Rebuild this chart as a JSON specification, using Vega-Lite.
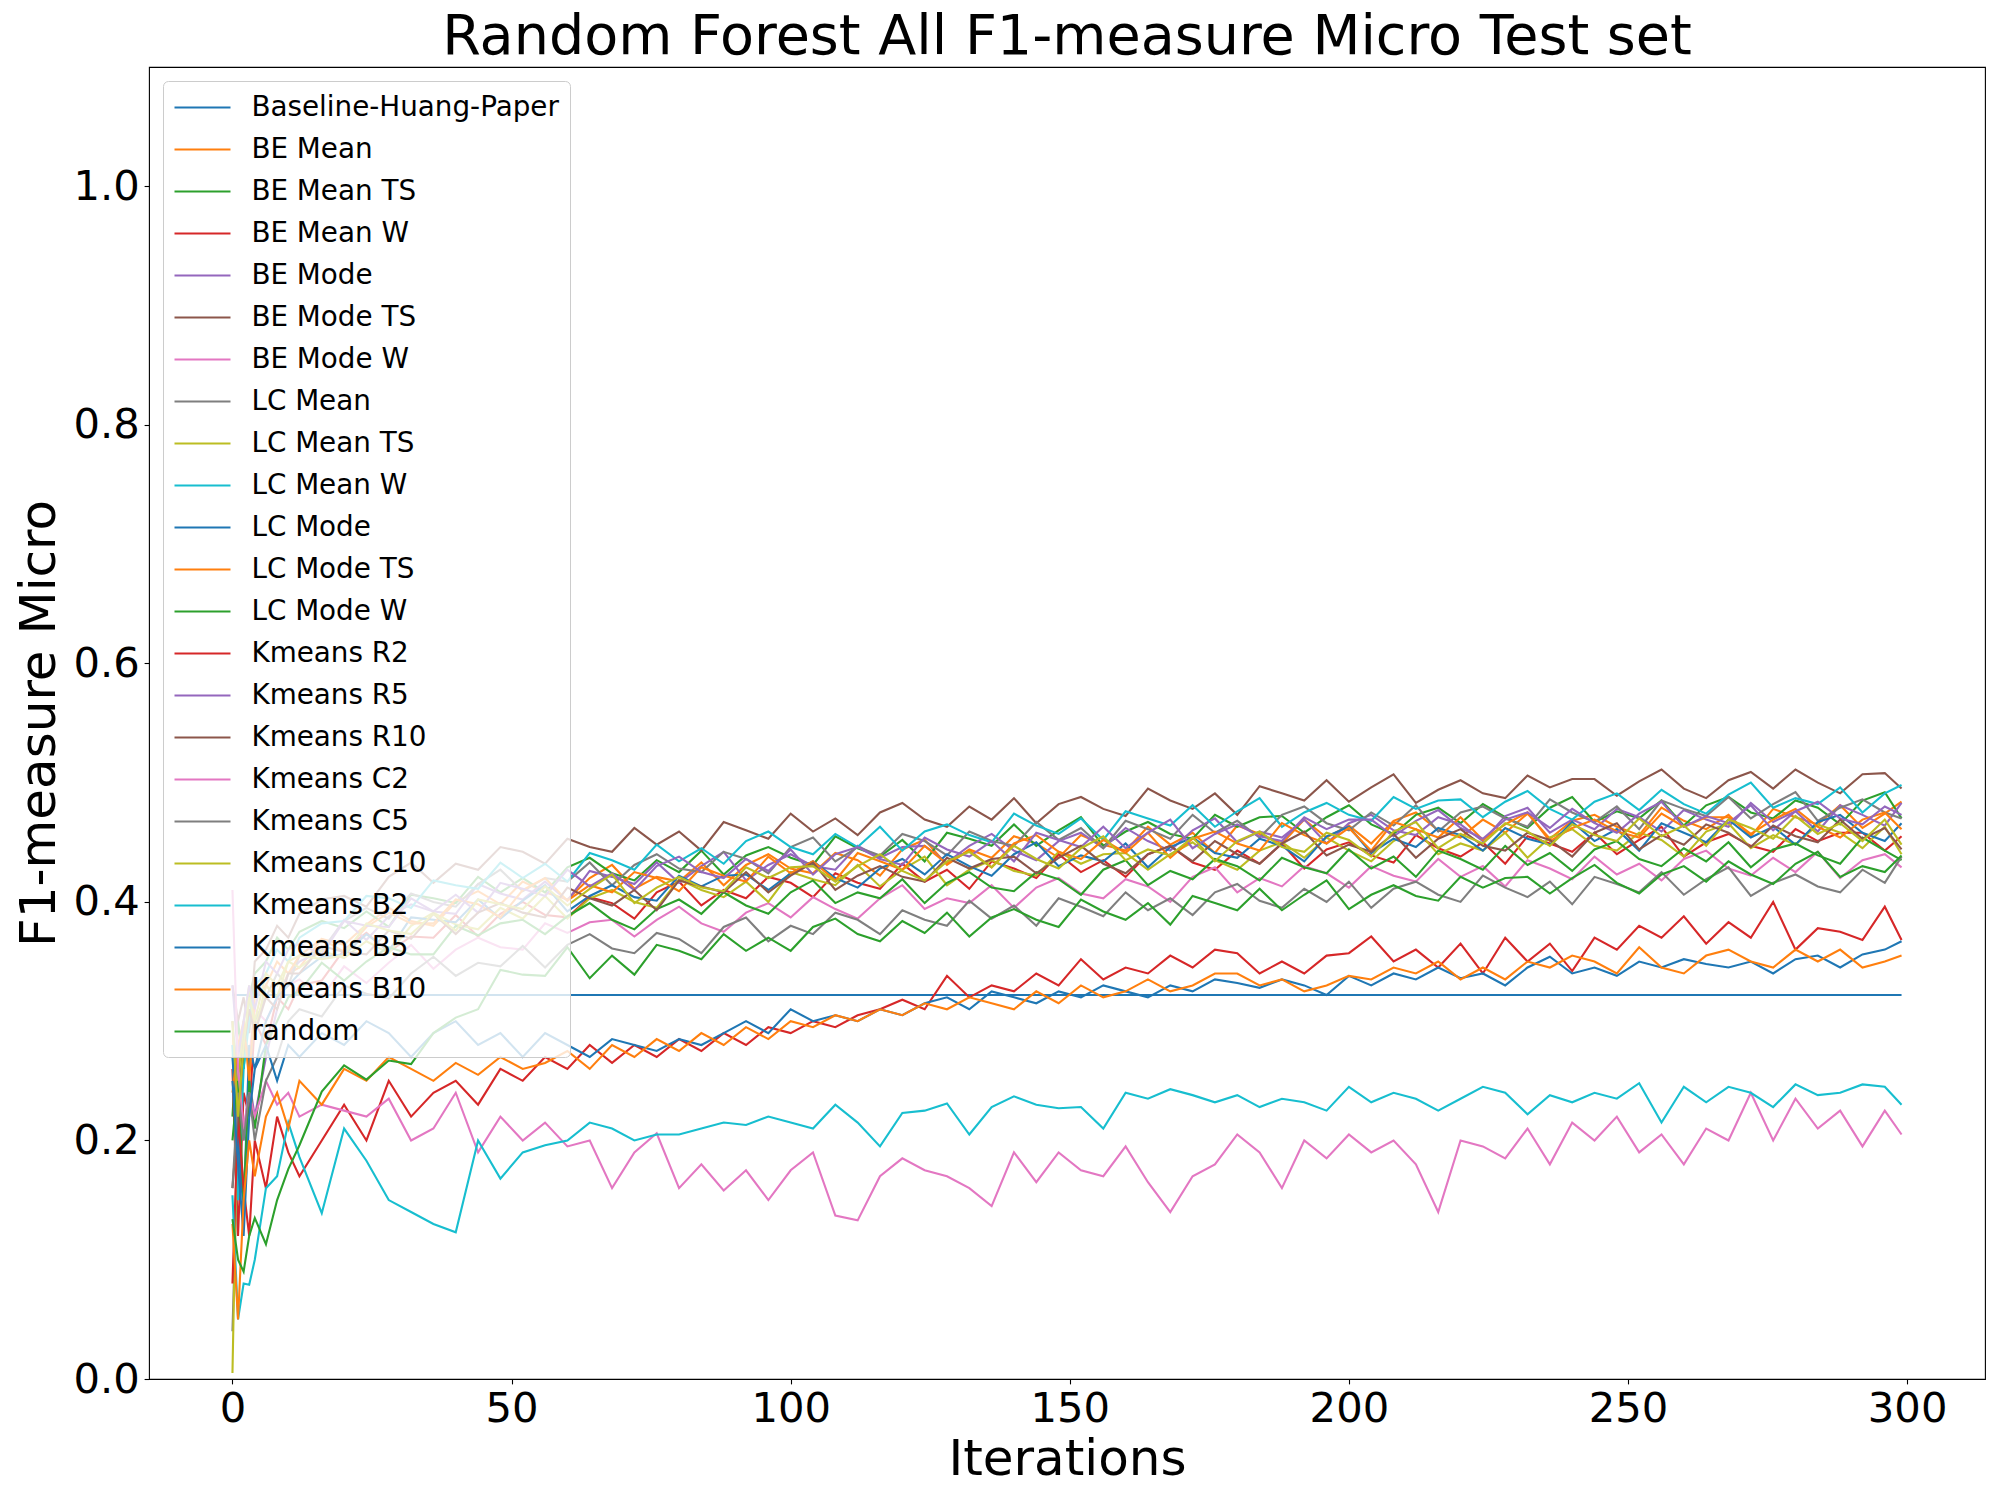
{
  "$schema": "https://vega.github.io/schema/vega-lite/v6.json",
  "description": "Random Forest F1 micro per iteration, one line per selection strategy",
  "width": 1836,
  "height": 1312,
  "autosize": {"type": "none"},
  "padding": {"left": 149, "top": 67, "right": 15, "bottom": 121},
  "background": "white",
  "title": {
    "text": "Random Forest All F1-measure Micro Test set",
    "font": "DejaVu Sans",
    "fontSize": 55.6,
    "fontWeight": "normal",
    "color": "black",
    "anchor": "middle",
    "baseline": "alphabetic",
    "offset": -43
  },
  "data": {
    "values": [
      {"x":0,"a":0.322,"b":0.30,"c":0.22,"d":0.26,"e":0.30,"f":0.33,"g":0.28,"h":0.04,"i":0.005,"j":0.28,"k":0.27,"l":0.24,"m":0.20,"n":0.08,"o":0.33,"p":0.16,"q":0.41,"r":0.16,"s":0.30,"t":0.154,"u":0.25,"v":0.13,"w":0.134},
      {"x":1,"a":0.322,"b":0.18,"c":0.30,"d":0.12,"e":0.24,"f":0.30,"g":0.22,"h":0.20,"i":0.25,"j":0.15,"k":0.20,"l":0.28,"m":0.25,"n":0.22,"o":0.27,"p":0.22,"q":0.26,"r":0.24,"s":0.22,"t":0.05,"u":0.18,"v":0.05,"w":0.10},
      {"x":2,"a":0.322,"b":0.27,"c":0.26,"d":0.24,"e":0.20,"f":0.32,"g":0.29,"h":0.30,"i":0.30,"j":0.26,"k":0.14,"l":0.30,"m":0.15,"n":0.16,"o":0.30,"p":0.28,"q":0.21,"r":0.20,"s":0.28,"t":0.08,"u":0.12,"v":0.15,"w":0.09},
      {"x":3,"a":0.322,"b":0.31,"c":0.32,"d":0.22,"e":0.25,"f":0.29,"g":0.27,"h":0.26,"i":0.33,"j":0.30,"k":0.28,"l":0.25,"m":0.25,"n":0.12,"o":0.33,"p":0.31,"q":0.24,"r":0.24,"s":0.32,"t":0.079,"u":0.22,"v":0.20,"w":0.12},
      {"x":4,"a":0.322,"b":0.29,"c":0.34,"d":0.30,"e":0.22,"f":0.35,"g":0.31,"h":0.30,"i":0.29,"j":0.33,"k":0.26,"l":0.32,"m":0.21,"n":0.20,"o":0.31,"p":0.29,"q":0.22,"r":0.20,"s":0.30,"t":0.10,"u":0.26,"v":0.17,"w":0.135},
      {"x":6,"a":0.322,"b":0.33,"c":0.35,"d":0.28,"e":0.27,"f":0.36,"g":0.30,"h":0.32,"i":0.33,"j":0.34,"k":0.30,"l":0.33,"m":0.28,"n":0.16,"o":0.35,"p":0.32,"q":0.25,"r":0.25,"s":0.34,"t":0.16,"u":0.28,"v":0.22,"w":0.113},
      {"x":8,"a":0.322,"b":0.32,"c":0.37,"d":0.32,"e":0.31,"f":0.38,"g":0.32,"h":0.34,"i":0.32,"j":0.36,"k":0.32,"l":0.35,"m":0.30,"n":0.22,"o":0.34,"p":0.31,"q":0.23,"r":0.27,"s":0.33,"t":0.17,"u":0.25,"v":0.24,"w":0.15},
      {"x":10,"a":0.322,"b":0.34,"c":0.36,"d":0.31,"e":0.34,"f":0.37,"g":0.33,"h":0.33,"i":0.35,"j":0.35,"k":0.33,"l":0.34,"m":0.32,"n":0.19,"o":0.36,"p":0.34,"q":0.24,"r":0.30,"s":0.35,"t":0.215,"u":0.28,"v":0.21,"w":0.176},
      {"x":12,"a":0.322,"b":0.345,"c":0.375,"d":0.33,"e":0.35,"f":0.39,"g":0.335,"h":0.355,"i":0.345,"j":0.37,"k":0.34,"l":0.355,"m":0.325,"n":0.17,"o":0.365,"p":0.34,"q":0.22,"r":0.31,"s":0.355,"t":0.186,"u":0.27,"v":0.25,"w":0.196},
      {"x":16,"a":0.322,"b":0.369,"c":0.384,"d":0.334,"e":0.359,"f":0.402,"g":0.320,"h":0.359,"i":0.359,"j":0.382,"k":0.354,"l":0.369,"m":0.349,"n":0.20,"o":0.356,"p":0.363,"q":0.23,"r":0.304,"s":0.352,"t":0.139,"u":0.29,"v":0.23,"w":0.241},
      {"x":20,"a":0.322,"b":0.364,"c":0.378,"d":0.360,"e":0.385,"f":0.405,"g":0.346,"h":0.384,"i":0.353,"j":0.384,"k":0.356,"l":0.358,"m":0.334,"n":0.23,"o":0.384,"p":0.358,"q":0.225,"r":0.330,"s":0.355,"t":0.21,"u":0.28,"v":0.26,"w":0.263},
      {"x":24,"a":0.322,"b":0.381,"c":0.392,"d":0.374,"e":0.368,"f":0.396,"g":0.332,"h":0.395,"i":0.367,"j":0.405,"k":0.373,"l":0.379,"m":0.350,"n":0.20,"o":0.380,"p":0.356,"q":0.22,"r":0.323,"s":0.382,"t":0.183,"u":0.30,"v":0.25,"w":0.251},
      {"x":28,"a":0.322,"b":0.395,"c":0.379,"d":0.358,"e":0.388,"f":0.421,"g":0.349,"h":0.386,"i":0.357,"j":0.403,"k":0.359,"l":0.391,"m":0.362,"n":0.25,"o":0.379,"p":0.376,"q":0.235,"r":0.319,"s":0.376,"t":0.15,"u":0.29,"v":0.27,"w":0.267},
      {"x":32,"a":0.322,"b":0.384,"c":0.406,"d":0.371,"e":0.398,"f":0.433,"g":0.364,"h":0.407,"i":0.380,"j":0.395,"k":0.387,"l":0.382,"m":0.356,"n":0.22,"o":0.403,"p":0.369,"q":0.20,"r":0.340,"s":0.373,"t":0.14,"u":0.27,"v":0.26,"w":0.264},
      {"x":36,"a":0.322,"b":0.380,"c":0.403,"d":0.370,"e":0.392,"f":0.416,"g":0.344,"h":0.400,"i":0.391,"j":0.418,"k":0.385,"l":0.382,"m":0.356,"n":0.24,"o":0.392,"p":0.390,"q":0.21,"r":0.354,"s":0.390,"t":0.13,"u":0.29,"v":0.25,"w":0.290},
      {"x":40,"a":0.322,"b":0.400,"c":0.399,"d":0.389,"e":0.390,"f":0.432,"g":0.360,"h":0.396,"i":0.381,"j":0.414,"k":0.383,"l":0.402,"m":0.380,"n":0.25,"o":0.406,"p":0.373,"q":0.24,"r":0.338,"s":0.376,"t":0.123,"u":0.30,"v":0.265,"w":0.303},
      {"x":44,"a":0.322,"b":0.409,"c":0.421,"d":0.371,"e":0.415,"f":0.427,"g":0.370,"h":0.415,"i":0.377,"j":0.411,"k":0.402,"l":0.398,"m":0.372,"n":0.23,"o":0.391,"p":0.391,"q":0.19,"r":0.349,"s":0.402,"t":0.20,"u":0.28,"v":0.255,"w":0.310},
      {"x":48,"a":0.322,"b":0.398,"c":0.408,"d":0.390,"e":0.407,"f":0.446,"g":0.362,"h":0.427,"i":0.395,"j":0.433,"k":0.386,"l":0.387,"m":0.382,"n":0.26,"o":0.416,"p":0.399,"q":0.22,"r":0.346,"s":0.398,"t":0.168,"u":0.29,"v":0.27,"w":0.343},
      {"x":52,"a":0.322,"b":0.417,"c":0.420,"d":0.400,"e":0.402,"f":0.442,"g":0.360,"h":0.409,"i":0.386,"j":0.420,"k":0.401,"l":0.410,"m":0.385,"n":0.25,"o":0.411,"p":0.391,"q":0.20,"r":0.363,"s":0.394,"t":0.19,"u":0.27,"v":0.26,"w":0.339},
      {"x":56,"a":0.322,"b":0.408,"c":0.408,"d":0.389,"e":0.417,"f":0.432,"g":0.382,"h":0.420,"i":0.405,"j":0.432,"k":0.414,"l":0.420,"m":0.373,"n":0.27,"o":0.405,"p":0.387,"q":0.215,"r":0.345,"s":0.413,"t":0.196,"u":0.29,"v":0.265,"w":0.338},
      {"x":60,"a":0.322,"b":0.402,"c":0.429,"d":0.387,"e":0.401,"f":0.453,"g":0.374,"h":0.417,"i":0.386,"j":0.417,"k":0.392,"l":0.401,"m":0.388,"n":0.26,"o":0.427,"p":0.412,"q":0.195,"r":0.364,"s":0.397,"t":0.20,"u":0.28,"v":0.275,"w":0.362},
      {"x":64,"a":0.322,"b":0.420,"c":0.437,"d":0.404,"e":0.426,"f":0.446,"g":0.383,"h":0.433,"i":0.403,"j":0.441,"k":0.405,"l":0.414,"m":0.399,"n":0.28,"o":0.413,"p":0.403,"q":0.20,"r":0.373,"s":0.411,"t":0.215,"u":0.27,"v":0.26,"w":0.336},
      {"x":68,"a":0.322,"b":0.431,"c":0.424,"d":0.399,"e":0.421,"f":0.442,"g":0.385,"h":0.414,"i":0.410,"j":0.435,"k":0.414,"l":0.408,"m":0.385,"n":0.265,"o":0.424,"p":0.397,"q":0.16,"r":0.361,"s":0.423,"t":0.21,"u":0.285,"v":0.28,"w":0.355},
      {"x":72,"a":0.322,"b":0.411,"c":0.418,"d":0.386,"e":0.415,"f":0.462,"g":0.371,"h":0.431,"i":0.400,"j":0.427,"k":0.404,"l":0.425,"m":0.377,"n":0.28,"o":0.410,"p":0.410,"q":0.19,"r":0.357,"s":0.399,"t":0.20,"u":0.28,"v":0.27,"w":0.339},
      {"x":76,"a":0.322,"b":0.421,"c":0.435,"d":0.408,"e":0.433,"f":0.448,"g":0.385,"h":0.440,"i":0.395,"j":0.448,"k":0.401,"l":0.420,"m":0.394,"n":0.27,"o":0.430,"p":0.393,"q":0.206,"r":0.374,"s":0.412,"t":0.205,"u":0.275,"v":0.285,"w":0.364},
      {"x":80,"a":0.322,"b":0.417,"c":0.425,"d":0.417,"e":0.416,"f":0.459,"g":0.396,"h":0.428,"i":0.419,"j":0.434,"k":0.422,"l":0.409,"m":0.402,"n":0.285,"o":0.438,"p":0.418,"q":0.16,"r":0.369,"s":0.421,"t":0.205,"u":0.285,"v":0.275,"w":0.359},
      {"x":84,"a":0.322,"b":0.433,"c":0.443,"d":0.397,"e":0.430,"f":0.443,"g":0.382,"h":0.425,"i":0.410,"j":0.445,"k":0.413,"l":0.429,"m":0.390,"n":0.275,"o":0.425,"p":0.413,"q":0.18,"r":0.357,"s":0.412,"t":0.21,"u":0.28,"v":0.29,"w":0.352},
      {"x":88,"a":0.322,"b":0.414,"c":0.423,"d":0.410,"e":0.442,"f":0.467,"g":0.375,"h":0.442,"i":0.404,"j":0.432,"k":0.422,"l":0.422,"m":0.408,"n":0.29,"o":0.420,"p":0.408,"q":0.158,"r":0.379,"s":0.409,"t":0.215,"u":0.29,"v":0.28,"w":0.373},
      {"x":92,"a":0.322,"b":0.431,"c":0.439,"d":0.403,"e":0.418,"f":0.460,"g":0.391,"h":0.436,"i":0.417,"j":0.451,"k":0.423,"l":0.417,"m":0.397,"n":0.28,"o":0.436,"p":0.425,"q":0.175,"r":0.387,"s":0.429,"t":0.213,"u":0.30,"v":0.295,"w":0.359},
      {"x":96,"a":0.322,"b":0.440,"c":0.446,"d":0.421,"e":0.431,"f":0.453,"g":0.399,"h":0.424,"i":0.400,"j":0.459,"k":0.410,"l":0.438,"m":0.390,"n":0.295,"o":0.426,"p":0.408,"q":0.15,"r":0.367,"s":0.420,"t":0.22,"u":0.29,"v":0.285,"w":0.370},
      {"x":100,"a":0.322,"b":0.428,"c":0.437,"d":0.416,"e":0.440,"f":0.474,"g":0.387,"h":0.446,"i":0.425,"j":0.446,"k":0.424,"l":0.424,"m":0.408,"n":0.29,"o":0.444,"p":0.422,"q":0.175,"r":0.380,"s":0.429,"t":0.215,"u":0.31,"v":0.30,"w":0.359},
      {"x":104,"a":0.322,"b":0.424,"c":0.431,"d":0.404,"e":0.430,"f":0.459,"g":0.404,"h":0.454,"i":0.419,"j":0.440,"k":0.434,"l":0.434,"m":0.418,"n":0.30,"o":0.423,"p":0.433,"q":0.19,"r":0.373,"s":0.430,"t":0.21,"u":0.30,"v":0.295,"w":0.379},
      {"x":108,"a":0.322,"b":0.441,"c":0.455,"d":0.424,"e":0.427,"f":0.470,"g":0.394,"h":0.434,"i":0.414,"j":0.457,"k":0.420,"l":0.418,"m":0.399,"n":0.295,"o":0.440,"p":0.410,"q":0.137,"r":0.391,"s":0.417,"t":0.23,"u":0.305,"v":0.305,"w":0.386},
      {"x":112,"a":0.322,"b":0.435,"c":0.445,"d":0.416,"e":0.447,"f":0.456,"g":0.386,"h":0.446,"i":0.431,"j":0.446,"k":0.412,"l":0.441,"m":0.408,"n":0.305,"o":0.446,"p":0.422,"q":0.133,"r":0.385,"s":0.430,"t":0.215,"u":0.30,"v":0.30,"w":0.373},
      {"x":116,"a":0.322,"b":0.422,"c":0.438,"d":0.411,"e":0.437,"f":0.475,"g":0.403,"h":0.439,"i":0.413,"j":0.463,"k":0.428,"l":0.434,"m":0.403,"n":0.31,"o":0.436,"p":0.430,"q":0.17,"r":0.373,"s":0.440,"t":0.195,"u":0.31,"v":0.31,"w":0.367},
      {"x":120,"a":0.322,"b":0.444,"c":0.452,"d":0.432,"e":0.446,"f":0.483,"g":0.414,"h":0.457,"i":0.427,"j":0.443,"k":0.436,"l":0.427,"m":0.419,"n":0.318,"o":0.431,"p":0.421,"q":0.185,"r":0.393,"s":0.426,"t":0.223,"u":0.305,"v":0.305,"w":0.384},
      {"x":124,"a":0.322,"b":0.452,"c":0.434,"d":0.417,"e":0.447,"f":0.469,"g":0.394,"h":0.451,"i":0.438,"j":0.459,"k":0.423,"l":0.447,"m":0.399,"n":0.31,"o":0.454,"p":0.417,"q":0.175,"r":0.385,"s":0.418,"t":0.225,"u":0.315,"v":0.315,"w":0.374},
      {"x":128,"a":0.322,"b":0.431,"c":0.458,"d":0.427,"e":0.433,"f":0.463,"g":0.403,"h":0.439,"i":0.414,"j":0.465,"k":0.440,"l":0.432,"m":0.416,"n":0.338,"o":0.444,"p":0.437,"q":0.17,"r":0.380,"s":0.434,"t":0.231,"u":0.32,"v":0.31,"w":0.391},
      {"x":132,"a":0.322,"b":0.444,"c":0.453,"d":0.411,"e":0.447,"f":0.480,"g":0.399,"h":0.459,"i":0.427,"j":0.456,"k":0.430,"l":0.443,"m":0.425,"n":0.32,"o":0.438,"p":0.428,"q":0.16,"r":0.401,"s":0.442,"t":0.205,"u":0.31,"v":0.32,"w":0.371},
      {"x":136,"a":0.322,"b":0.437,"c":0.447,"d":0.434,"e":0.457,"f":0.469,"g":0.414,"h":0.451,"i":0.435,"j":0.450,"k":0.422,"l":0.429,"m":0.412,"n":0.33,"o":0.451,"p":0.436,"q":0.145,"r":0.386,"s":0.429,"t":0.228,"u":0.325,"v":0.315,"w":0.387},
      {"x":140,"a":0.322,"b":0.455,"c":0.465,"d":0.428,"e":0.443,"f":0.487,"g":0.395,"h":0.447,"i":0.426,"j":0.474,"k":0.440,"l":0.449,"m":0.409,"n":0.325,"o":0.434,"p":0.438,"q":0.19,"r":0.397,"s":0.447,"t":0.237,"u":0.32,"v":0.31,"w":0.394},
      {"x":144,"a":0.322,"b":0.449,"c":0.447,"d":0.420,"e":0.435,"f":0.466,"g":0.412,"h":0.467,"i":0.422,"j":0.464,"k":0.450,"l":0.456,"m":0.425,"n":0.34,"o":0.458,"p":0.424,"q":0.165,"r":0.380,"s":0.436,"t":0.23,"u":0.315,"v":0.325,"w":0.385},
      {"x":148,"a":0.322,"b":0.437,"c":0.460,"d":0.440,"e":0.451,"f":0.482,"g":0.420,"h":0.452,"i":0.442,"j":0.457,"k":0.430,"l":0.442,"m":0.419,"n":0.33,"o":0.452,"p":0.437,"q":0.19,"r":0.403,"s":0.428,"t":0.227,"u":0.325,"v":0.315,"w":0.379},
      {"x":152,"a":0.322,"b":0.456,"c":0.471,"d":0.425,"e":0.458,"f":0.488,"g":0.407,"h":0.462,"i":0.432,"j":0.470,"k":0.439,"l":0.436,"m":0.406,"n":0.352,"o":0.446,"p":0.447,"q":0.175,"r":0.396,"s":0.445,"t":0.228,"u":0.32,"v":0.33,"w":0.402},
      {"x":156,"a":0.322,"b":0.448,"c":0.447,"d":0.435,"e":0.445,"f":0.478,"g":0.403,"h":0.445,"i":0.440,"j":0.452,"k":0.434,"l":0.452,"m":0.427,"n":0.335,"o":0.463,"p":0.432,"q":0.17,"r":0.388,"s":0.455,"t":0.21,"u":0.33,"v":0.32,"w":0.392},
      {"x":160,"a":0.322,"b":0.443,"c":0.459,"d":0.421,"e":0.462,"f":0.472,"g":0.419,"h":0.468,"i":0.441,"j":0.476,"k":0.449,"l":0.441,"m":0.435,"n":0.345,"o":0.445,"p":0.424,"q":0.195,"r":0.408,"s":0.435,"t":0.24,"u":0.325,"v":0.325,"w":0.385},
      {"x":164,"a":0.322,"b":0.463,"c":0.467,"d":0.440,"e":0.451,"f":0.495,"g":0.413,"h":0.461,"i":0.427,"j":0.470,"k":0.429,"l":0.458,"m":0.414,"n":0.34,"o":0.458,"p":0.440,"q":0.165,"r":0.393,"s":0.444,"t":0.235,"u":0.32,"v":0.335,"w":0.399},
      {"x":168,"a":0.322,"b":0.448,"c":0.457,"d":0.447,"e":0.443,"f":0.485,"g":0.400,"h":0.453,"i":0.440,"j":0.464,"k":0.446,"l":0.437,"m":0.426,"n":0.355,"o":0.469,"p":0.447,"q":0.14,"r":0.403,"s":0.439,"t":0.243,"u":0.33,"v":0.325,"w":0.381},
      {"x":172,"a":0.322,"b":0.458,"c":0.453,"d":0.433,"e":0.460,"f":0.478,"g":0.421,"h":0.473,"i":0.450,"j":0.481,"k":0.454,"l":0.453,"m":0.419,"n":0.345,"o":0.445,"p":0.434,"q":0.17,"r":0.389,"s":0.454,"t":0.238,"u":0.325,"v":0.33,"w":0.405},
      {"x":176,"a":0.322,"b":0.441,"c":0.473,"d":0.427,"e":0.470,"f":0.491,"g":0.429,"h":0.458,"i":0.435,"j":0.463,"k":0.441,"l":0.459,"m":0.436,"n":0.36,"o":0.457,"p":0.451,"q":0.18,"r":0.408,"s":0.434,"t":0.232,"u":0.335,"v":0.34,"w":0.399},
      {"x":180,"a":0.322,"b":0.464,"c":0.463,"d":0.443,"e":0.450,"f":0.473,"g":0.408,"h":0.468,"i":0.427,"j":0.476,"k":0.437,"l":0.449,"m":0.430,"n":0.357,"o":0.465,"p":0.440,"q":0.205,"r":0.415,"s":0.451,"t":0.238,"u":0.332,"v":0.34,"w":0.393},
      {"x":184,"a":0.322,"b":0.457,"c":0.471,"d":0.432,"e":0.459,"f":0.497,"g":0.420,"h":0.454,"i":0.443,"j":0.487,"k":0.453,"l":0.443,"m":0.418,"n":0.34,"o":0.455,"p":0.432,"q":0.19,"r":0.401,"s":0.459,"t":0.228,"u":0.328,"v":0.33,"w":0.411},
      {"x":188,"a":0.322,"b":0.449,"c":0.472,"d":0.449,"e":0.454,"f":0.491,"g":0.413,"h":0.473,"i":0.450,"j":0.463,"k":0.447,"l":0.466,"m":0.437,"n":0.35,"o":0.451,"p":0.449,"q":0.16,"r":0.395,"s":0.446,"t":0.235,"u":0.335,"v":0.335,"w":0.393},
      {"x":192,"a":0.322,"b":0.469,"c":0.458,"d":0.428,"e":0.469,"f":0.485,"g":0.430,"h":0.480,"i":0.437,"j":0.475,"k":0.434,"l":0.456,"m":0.429,"n":0.34,"o":0.471,"p":0.459,"q":0.20,"r":0.411,"s":0.442,"t":0.232,"u":0.33,"v":0.325,"w":0.406},
      {"x":196,"a":0.322,"b":0.454,"c":0.471,"d":0.444,"e":0.449,"f":0.502,"g":0.424,"h":0.466,"i":0.454,"j":0.483,"k":0.455,"l":0.449,"m":0.424,"n":0.355,"o":0.461,"p":0.439,"q":0.185,"r":0.400,"s":0.458,"t":0.225,"u":0.322,"v":0.33,"w":0.418},
      {"x":200,"a":0.322,"b":0.464,"c":0.481,"d":0.450,"e":0.466,"f":0.484,"g":0.412,"h":0.460,"i":0.443,"j":0.473,"k":0.463,"l":0.462,"m":0.444,"n":0.357,"o":0.469,"p":0.448,"q":0.205,"r":0.417,"s":0.452,"t":0.245,"u":0.338,"v":0.338,"w":0.394},
      {"x":204,"a":0.322,"b":0.449,"c":0.465,"d":0.439,"e":0.473,"f":0.496,"g":0.430,"h":0.475,"i":0.434,"j":0.468,"k":0.441,"l":0.443,"m":0.428,"n":0.371,"o":0.469,"p":0.442,"q":0.19,"r":0.395,"s":0.438,"t":0.232,"u":0.33,"v":0.335,"w":0.406},
      {"x":208,"a":0.322,"b":0.468,"c":0.457,"d":0.433,"e":0.460,"f":0.507,"g":0.422,"h":0.464,"i":0.451,"j":0.488,"k":0.453,"l":0.467,"m":0.438,"n":0.35,"o":0.455,"p":0.457,"q":0.20,"r":0.411,"s":0.459,"t":0.24,"u":0.34,"v":0.345,"w":0.414},
      {"x":212,"a":0.322,"b":0.475,"c":0.473,"d":0.456,"e":0.456,"f":0.483,"g":0.417,"h":0.481,"i":0.461,"j":0.478,"k":0.446,"l":0.461,"m":0.421,"n":0.36,"o":0.468,"p":0.437,"q":0.18,"r":0.417,"s":0.467,"t":0.235,"u":0.335,"v":0.34,"w":0.405},
      {"x":216,"a":0.322,"b":0.460,"c":0.479,"d":0.445,"e":0.471,"f":0.494,"g":0.436,"h":0.459,"i":0.440,"j":0.485,"k":0.462,"l":0.454,"m":0.443,"n":0.345,"o":0.477,"p":0.453,"q":0.14,"r":0.406,"s":0.445,"t":0.225,"u":0.345,"v":0.35,"w":0.401},
      {"x":220,"a":0.322,"b":0.454,"c":0.466,"d":0.438,"e":0.465,"f":0.502,"g":0.421,"h":0.475,"i":0.449,"j":0.486,"k":0.456,"l":0.471,"m":0.436,"n":0.365,"o":0.462,"p":0.461,"q":0.20,"r":0.400,"s":0.457,"t":0.235,"u":0.336,"v":0.335,"w":0.421},
      {"x":224,"a":0.322,"b":0.469,"c":0.482,"d":0.450,"e":0.451,"f":0.491,"g":0.430,"h":0.480,"i":0.443,"j":0.471,"k":0.443,"l":0.452,"m":0.427,"n":0.34,"o":0.453,"p":0.447,"q":0.195,"r":0.422,"s":0.449,"t":0.245,"u":0.34,"v":0.345,"w":0.412},
      {"x":228,"a":0.322,"b":0.458,"c":0.471,"d":0.432,"e":0.472,"f":0.487,"g":0.413,"h":0.470,"i":0.458,"j":0.484,"k":0.462,"l":0.465,"m":0.447,"n":0.37,"o":0.469,"p":0.443,"q":0.185,"r":0.412,"s":0.466,"t":0.24,"u":0.33,"v":0.335,"w":0.420},
      {"x":232,"a":0.322,"b":0.474,"c":0.462,"d":0.455,"e":0.479,"f":0.506,"g":0.435,"h":0.463,"i":0.437,"j":0.493,"k":0.453,"l":0.475,"m":0.431,"n":0.35,"o":0.475,"p":0.458,"q":0.21,"r":0.404,"s":0.459,"t":0.222,"u":0.345,"v":0.35,"w":0.421},
      {"x":236,"a":0.322,"b":0.453,"c":0.479,"d":0.449,"e":0.458,"f":0.496,"g":0.428,"h":0.486,"i":0.454,"j":0.478,"k":0.448,"l":0.451,"m":0.441,"n":0.365,"o":0.462,"p":0.452,"q":0.18,"r":0.417,"s":0.447,"t":0.238,"u":0.354,"v":0.345,"w":0.407},
      {"x":240,"a":0.322,"b":0.468,"c":0.488,"d":0.442,"e":0.469,"f":0.503,"g":0.419,"h":0.475,"i":0.461,"j":0.469,"k":0.467,"l":0.462,"m":0.426,"n":0.342,"o":0.478,"p":0.438,"q":0.215,"r":0.398,"s":0.465,"t":0.232,"u":0.34,"v":0.355,"w":0.420},
      {"x":244,"a":0.322,"b":0.473,"c":0.467,"d":0.458,"e":0.461,"f":0.503,"g":0.438,"h":0.467,"i":0.447,"j":0.484,"k":0.451,"l":0.469,"m":0.444,"n":0.37,"o":0.466,"p":0.458,"q":0.20,"r":0.421,"s":0.456,"t":0.24,"u":0.345,"v":0.35,"w":0.431},
      {"x":248,"a":0.322,"b":0.463,"c":0.476,"d":0.440,"e":0.478,"f":0.489,"g":0.423,"h":0.480,"i":0.443,"j":0.491,"k":0.461,"l":0.459,"m":0.451,"n":0.36,"o":0.458,"p":0.466,"q":0.22,"r":0.415,"s":0.451,"t":0.235,"u":0.338,"v":0.34,"w":0.416},
      {"x":252,"a":0.322,"b":0.456,"c":0.470,"d":0.452,"e":0.471,"f":0.501,"g":0.432,"h":0.461,"i":0.458,"j":0.477,"k":0.443,"l":0.454,"m":0.436,"n":0.38,"o":0.474,"p":0.444,"q":0.19,"r":0.408,"s":0.470,"t":0.248,"u":0.35,"v":0.362,"w":0.407},
      {"x":256,"a":0.322,"b":0.479,"c":0.485,"d":0.463,"e":0.459,"f":0.511,"g":0.418,"h":0.485,"i":0.452,"j":0.494,"k":0.466,"l":0.474,"m":0.430,"n":0.37,"o":0.484,"p":0.456,"q":0.205,"r":0.425,"s":0.455,"t":0.215,"u":0.345,"v":0.345,"w":0.423},
      {"x":260,"a":0.322,"b":0.468,"c":0.464,"d":0.438,"e":0.477,"f":0.495,"g":0.436,"h":0.478,"i":0.438,"j":0.482,"k":0.458,"l":0.463,"m":0.445,"n":0.388,"o":0.463,"p":0.448,"q":0.18,"r":0.406,"s":0.464,"t":0.245,"u":0.352,"v":0.34,"w":0.430},
      {"x":264,"a":0.322,"b":0.461,"c":0.481,"d":0.450,"e":0.469,"f":0.487,"g":0.443,"h":0.472,"i":0.459,"j":0.474,"k":0.450,"l":0.471,"m":0.434,"n":0.365,"o":0.472,"p":0.465,"q":0.21,"r":0.419,"s":0.447,"t":0.232,"u":0.348,"v":0.355,"w":0.417},
      {"x":268,"a":0.322,"b":0.473,"c":0.488,"d":0.457,"e":0.463,"f":0.502,"g":0.428,"h":0.488,"i":0.466,"j":0.490,"k":0.469,"l":0.471,"m":0.450,"n":0.383,"o":0.466,"p":0.458,"q":0.20,"r":0.429,"s":0.469,"t":0.245,"u":0.345,"v":0.36,"w":0.434},
      {"x":272,"a":0.322,"b":0.455,"c":0.475,"d":0.447,"e":0.483,"f":0.509,"g":0.422,"h":0.470,"i":0.445,"j":0.500,"k":0.454,"l":0.457,"m":0.429,"n":0.37,"o":0.481,"p":0.446,"q":0.24,"r":0.405,"s":0.462,"t":0.24,"u":0.35,"v":0.35,"w":0.423},
      {"x":276,"a":0.322,"b":0.478,"c":0.470,"d":0.442,"e":0.467,"f":0.495,"g":0.437,"h":0.482,"i":0.456,"j":0.479,"k":0.463,"l":0.469,"m":0.444,"n":0.40,"o":0.460,"p":0.464,"q":0.20,"r":0.416,"s":0.453,"t":0.228,"u":0.34,"v":0.345,"w":0.415},
      {"x":280,"a":0.322,"b":0.471,"c":0.485,"d":0.461,"e":0.476,"f":0.511,"g":0.425,"h":0.492,"i":0.448,"j":0.487,"k":0.448,"l":0.478,"m":0.449,"n":0.36,"o":0.476,"p":0.455,"q":0.235,"r":0.423,"s":0.472,"t":0.247,"u":0.352,"v":0.36,"w":0.432},
      {"x":284,"a":0.322,"b":0.465,"c":0.479,"d":0.451,"e":0.459,"f":0.500,"g":0.442,"h":0.468,"i":0.465,"j":0.482,"k":0.467,"l":0.463,"m":0.439,"n":0.378,"o":0.484,"p":0.450,"q":0.21,"r":0.413,"s":0.457,"t":0.238,"u":0.355,"v":0.35,"w":0.442},
      {"x":288,"a":0.322,"b":0.481,"c":0.465,"d":0.458,"e":0.481,"f":0.491,"g":0.420,"h":0.479,"i":0.458,"j":0.496,"k":0.473,"l":0.454,"m":0.432,"n":0.375,"o":0.470,"p":0.469,"q":0.225,"r":0.408,"s":0.466,"t":0.24,"u":0.345,"v":0.36,"w":0.421},
      {"x":292,"a":0.322,"b":0.462,"c":0.485,"d":0.458,"e":0.473,"f":0.507,"g":0.435,"h":0.486,"i":0.445,"j":0.475,"k":0.458,"l":0.469,"m":0.454,"n":0.368,"o":0.465,"p":0.453,"q":0.195,"r":0.427,"s":0.451,"t":0.247,"u":0.356,"v":0.345,"w":0.430},
      {"x":296,"a":0.322,"b":0.474,"c":0.492,"d":0.443,"e":0.464,"f":0.508,"g":0.440,"h":0.475,"i":0.463,"j":0.491,"k":0.451,"l":0.475,"m":0.443,"n":0.396,"o":0.480,"p":0.462,"q":0.225,"r":0.416,"s":0.469,"t":0.245,"u":0.36,"v":0.35,"w":0.425},
      {"x":299,"a":0.322,"b":0.484,"c":0.470,"d":0.455,"e":0.483,"f":0.495,"g":0.429,"h":0.470,"i":0.440,"j":0.498,"k":0.466,"l":0.461,"m":0.435,"n":0.368,"o":0.473,"p":0.444,"q":0.205,"r":0.438,"s":0.448,"t":0.23,"u":0.367,"v":0.355,"w":0.439}
    ]
  },
  "transform": [
    {"fold": ["a","b","c","d","e","f","g","h","i","j","k","l","m","n","o","p","q","r","s","t","u","v","w"], "as": ["k","y"]},
    {
      "lookup": "k",
      "from": {
        "data": {
          "values": [
            {"k":"a","name":"Baseline-Huang-Paper"},
            {"k":"b","name":"BE Mean"},
            {"k":"c","name":"BE Mean TS"},
            {"k":"d","name":"BE Mean W"},
            {"k":"e","name":"BE Mode"},
            {"k":"f","name":"BE Mode TS"},
            {"k":"g","name":"BE Mode W"},
            {"k":"h","name":"LC Mean"},
            {"k":"i","name":"LC Mean TS"},
            {"k":"j","name":"LC Mean W"},
            {"k":"k","name":"LC Mode"},
            {"k":"l","name":"LC Mode TS"},
            {"k":"m","name":"LC Mode W"},
            {"k":"n","name":"Kmeans R2"},
            {"k":"o","name":"Kmeans R5"},
            {"k":"p","name":"Kmeans R10"},
            {"k":"q","name":"Kmeans C2"},
            {"k":"r","name":"Kmeans C5"},
            {"k":"s","name":"Kmeans C10"},
            {"k":"t","name":"Kmeans B2"},
            {"k":"u","name":"Kmeans B5"},
            {"k":"v","name":"Kmeans B10"},
            {"k":"w","name":"random"}
          ]
        },
        "key": "k",
        "fields": ["name"]
      }
    }
  ],
  "mark": {"type": "line", "strokeWidth": 2.1, "clip": true},
  "encoding": {
    "x": {
      "field": "x",
      "type": "quantitative",
      "scale": {"domain": [-14.95, 313.95], "nice": false, "zero": false},
      "axis": {
        "title": "Iterations",
        "values": [0, 50, 100, 150, 200, 250, 300],
        "format": "d",
        "labelFlush": false,
        "titlePadding": 4
      }
    },
    "y": {
      "field": "y",
      "type": "quantitative",
      "scale": {"domain": [0, 1.1], "nice": false, "zero": false},
      "axis": {
        "title": "F1-measure Micro",
        "values": [0, 0.2, 0.4, 0.6, 0.8, 1.0],
        "format": ".1f",
        "titlePadding": 8
      }
    },
    "color": {
      "field": "name",
      "type": "nominal",
      "scale": {
        "domain": ["Baseline-Huang-Paper","BE Mean","BE Mean TS","BE Mean W","BE Mode","BE Mode TS","BE Mode W","LC Mean","LC Mean TS","LC Mean W","LC Mode","LC Mode TS","LC Mode W","Kmeans R2","Kmeans R5","Kmeans R10","Kmeans C2","Kmeans C5","Kmeans C10","Kmeans B2","Kmeans B5","Kmeans B10","random"],
        "range": ["#1f77b4","#ff7f0e","#2ca02c","#d62728","#9467bd","#8c564b","#e377c2","#7f7f7f","#bcbd22","#17becf","#1f77b4","#ff7f0e","#2ca02c","#d62728","#9467bd","#8c564b","#e377c2","#7f7f7f","#bcbd22","#17becf","#1f77b4","#ff7f0e","#2ca02c"]
      },
      "legend": {
        "title": null,
        "orient": "top-left",
        "offset": 14,
        "padding": 11,
        "fillColor": "rgba(255,255,255,0.8)",
        "strokeColor": "#cccccc",
        "cornerRadius": 5,
        "symbolType": "M-2,0H2",
        "symbolSize": 784,
        "symbolOffset": 13,
        "symbolStrokeWidth": 2.1,
        "labelFont": "DejaVu Sans",
        "labelFontSize": 27.8,
        "labelColor": "black",
        "labelOffset": 33.4,
        "labelLimit": 600,
        "rowPadding": 12.0
      }
    }
  },
  "config": {
    "font": "DejaVu Sans",
    "view": {"stroke": "black", "strokeWidth": 1.1},
    "axis": {
      "domain": false,
      "grid": false,
      "ticks": true,
      "tickColor": "black",
      "tickWidth": 1.1,
      "tickSize": 4.9,
      "labelPadding": 4.9,
      "labelFont": "DejaVu Sans",
      "labelFontSize": 41.7,
      "labelColor": "black",
      "titleFont": "DejaVu Sans",
      "titleFontSize": 50,
      "titleFontWeight": "normal",
      "titleColor": "black"
    }
  }
}
